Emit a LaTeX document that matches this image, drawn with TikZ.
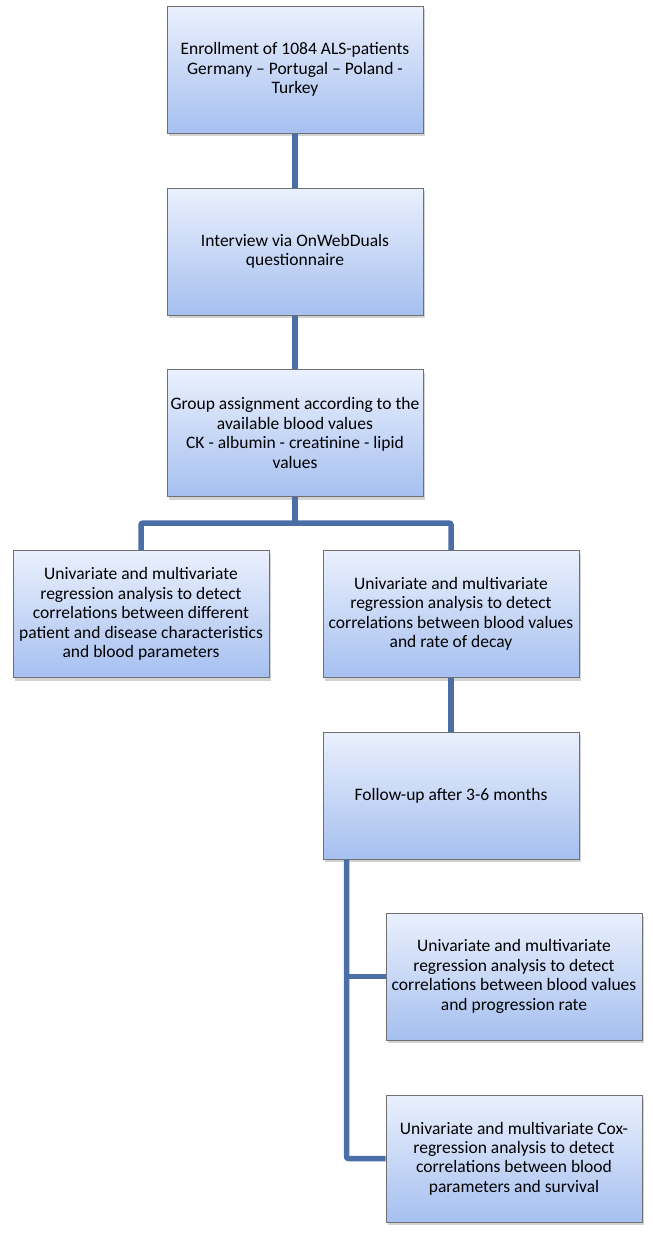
\documentclass[tikz,border=0pt]{standalone}
\usepackage{fontspec}
\setmainfont{Carlito}
\usetikzlibrary{shadows}
\definecolor{linec}{RGB}{76,110,166}
\definecolor{boxtop}{RGB}{234,240,253}
\definecolor{boxbot}{RGB}{166,192,240}
\definecolor{boxdraw}{RGB}{112,112,112}
\begin{document}
\begin{tikzpicture}[x=1pt,y=-1pt,
  box/.style={draw=boxdraw, line width=1pt, top color=boxtop, bottom color=boxbot,
    minimum width=256pt, minimum height=127pt, align=center, inner sep=2pt,
    font=\fontsize{17.5}{19.4}\selectfont,
    drop shadow={shadow xshift=2pt, shadow yshift=-3pt, opacity=0.35}},
  conn/.style={draw=linec, line width=5.5pt, rounded corners=2pt}]
\useasboundingbox (0,0) rectangle (653,1240);

\node[box] (b1) at (295,69.5) {Enrollment of 1084 ALS-patients\\Germany – Portugal – Poland -\\Turkey};
\node[box] (b2) at (295,251.5) {Interview via OnWebDuals\\questionnaire};
\node[box] (b3) at (295,433) {Group assignment according to the\\available blood values\\CK - albumin - creatinine - lipid\\values};
\node[box] (b4) at (141,614) {Univariate and multivariate\\regression analysis to detect\\correlations between different\\patient and disease characteristics\\and blood parameters};
\node[box] (b5) at (451,614) {Univariate and multivariate\\regression analysis to detect\\correlations between blood values\\and rate of decay};
\node[box] (b6) at (451,795.5) {Follow-up after 3-6 months};
\node[box] (b7) at (514,976.5) {Univariate and multivariate\\regression analysis to detect\\correlations between blood values\\and progression rate};
\node[box] (b8) at (514,1158.5) {Univariate and multivariate Cox-\\regression analysis to detect\\correlations between blood\\parameters and survival};

\draw[conn] (b1) -- (b2);
\draw[conn] (b2) -- (b3);
\coordinate (j) at (295,523);
\draw[conn] (b3.south) -- (j);
\draw[conn] (b4.north) -- (b4.north |- j) -- (b5.north |- j) -- (b5.north);
\draw[conn] (b5) -- (b6);
\coordinate (v) at ([xshift=24pt]b6.south west);
\draw[conn] (v) |- (b8.west);
\draw[conn] (b7.west) -- (b7.west -| v);
\end{tikzpicture}
\end{document}
